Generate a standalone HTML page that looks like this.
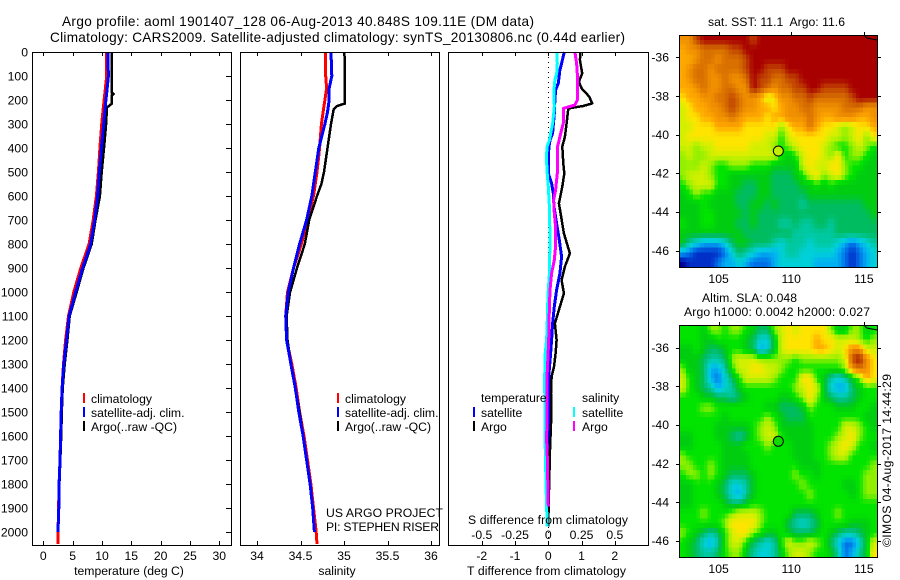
<!DOCTYPE html>
<html lang="en">
<head>
<meta charset="utf-8">
<title>Argo profile 1901407_128</title>
<style>
html,body{margin:0;padding:0;background:#fff;}
svg{display:block;}
text{font-family:"Liberation Sans",sans-serif;font-size:12.2px;fill:#000;}
text.big{font-size:13.6px;}
</style>
</head>
<body>
<svg id="chart" xmlns="http://www.w3.org/2000/svg" width="900" height="580" viewBox="0 0 900 580">
<rect x="0" y="0" width="900" height="580" fill="#fff"/>
<text class="big" x="62" y="26" textLength="472">Argo profile: aoml 1901407_128 06-Aug-2013 40.848S 109.11E (DM data)</text>
<text class="big" x="50" y="42" textLength="575">Climatology: CARS2009. Satellite-adjusted climatology: synTS_20130806.nc (0.44d earlier)</text>
<text x="129" y="575" text-anchor="middle">temperature (deg C)</text>
<text x="337" y="575" text-anchor="middle">salinity</text>
<text x="467" y="575" textLength="159">T difference from climatology</text>
<text x="468" y="524" textLength="160">S difference from climatology</text>
<text x="326" y="517" textLength="117">US ARGO PROJECT</text>
<text x="326" y="531" textLength="113">PI: STEPHEN RISER</text>
<text x="708" y="26" textLength="137" xml:space="preserve">sat. SST: 11.1  Argo: 11.6</text>
<text x="702" y="302" textLength="95">Altim. SLA: 0.048</text>
<text x="684" y="316" textLength="186">Argo h1000: 0.0042 h2000: 0.027</text>
<text transform="translate(891 547) rotate(-90)" textLength="173">©IMOS 04-Aug-2017 14:44:29</text>
</svg>
<script>
/* ---------- axis labels ---------- */
const depthTicks = [0,100,200,300,400,500,600,700,800,900,1000,1100,1200,1300,1400,1500,1600,1700,1800,1900,2000];
const tempTicks = [0,5,10,15,20,25,30];
const salTicks = [34,34.5,35,35.5,36];
const tDiffTicks = [-2,-1,0,1,2];
const sDiffTicks = [-0.5,-0.25,0,0.25,0.5];
const lonTicks = [105,110,115];
const latTicks = [-36,-38,-40,-42,-44,-46];

/* ---------- temperature profiles (deg C) ---------- */
const tempDepths = [0,100,170,240,300,400,500,600,700,800,900,1000,1100,1200,1300,1400,1500,1600,1700,1800,1900,2000,2050];
const tempClim = [10.74,10.8,10.5,10.2,9.95,9.65,9.4,9.05,8.5,7.8,6.4,5.2,4.3,3.8,3.45,3.2,3.05,2.95,2.85,2.7,2.6,2.5,2.5];
const tempSat = [11.0,11.1,10.8,10.5,10.3,9.9,9.55,9.25,8.75,8.07,6.7,5.5,4.4,3.95,3.5,3.2,3.05,2.95,2.85,2.7,2.65,2.5];
const tempArgoDepths = [0,170,175,180,215,232,250,300,400,500,600,700,800,900,1000,1100,1200,1300,1400,1500,1600,1700,1800,1900];
const tempArgo = [11.7,11.7,12.0,11.7,11.7,10.8,10.8,10.7,10.35,9.95,9.65,8.9,8.25,6.85,5.7,4.5,4.1,3.65,3.3,3.15,3.05,2.9,2.75,2.65];

/* ---------- salinity profiles ---------- */
const salDepths = [0,100,150,200,250,300,400,500,600,700,800,900,1000,1100,1200,1300,1400,1500,1600,1700,1800,1900,2000,2050];
const salClim = [34.79,34.79,34.8,34.78,34.76,34.74,34.72,34.69,34.65,34.58,34.51,34.42,34.35,34.33,34.34,34.40,34.45,34.49,34.54,34.58,34.62,34.65,34.68,34.69];
const salSat = [34.85,34.86,34.83,34.83,34.81,34.78,34.71,34.67,34.63,34.57,34.49,34.42,34.36,34.33,34.34,34.39,34.44,34.48,34.53,34.57,34.61,34.64,34.66];
const salArgoDepths = [0,30,215,225,240,300,400,500,550,600,700,800,900,1000,1100,1200,1300,1400,1500,1600,1700,1800,1900,2000];
const salArgo = [35.0,35.01,35.01,34.92,34.88,34.85,34.81,34.77,34.74,34.69,34.60,34.55,34.46,34.38,34.34,34.35,34.39,34.44,34.49,34.53,34.57,34.61,34.64,34.66];

/* ---------- difference profiles ---------- */
const tDiffSatDepths = [0,47,75,130,158,200,256,339,367,394,436,506,547,589,644,714,783,853,922,992,1061,1131,1200,1256,1339,1478,1617,1756,1978];
const tDiffSat = [0.48,0.40,0.35,0.30,0.22,0.20,0.18,0.13,0.05,0.02,0,0,0.10,0.15,0.17,0.25,0.33,0.40,0.35,0.25,0.18,0.13,0.10,0.07,0.02,0.01,0.01,0,-0.01];
const tDiffArgoDepths = [0,33,89,124,151,186,214,225,235,297,353,394,464,506,561,631,672,756,839,894,950,1006,1061,1131,1200,1256,1311,1353,1422,1547,1658,1894,1978];
const tDiffArgo = [0.97,0.95,1.02,0.92,1.0,1.23,1.32,1.05,0.60,0.55,0.50,0.42,0.45,0.48,0.42,0.32,0.37,0.47,0.65,0.50,0.40,0.47,0.35,0.20,0.25,0.22,0.17,0.10,0.08,0.08,0.05,0.01,0];
const sDiffSatDepths = [0,47,89,117,158,228,297,339,367,394,436,506,561,644,783,922,992,1061,1131,1200,1256,1367,1506,1644,1853,1978];
const sDiffSat = [0.063,0.068,0.063,0.05,0.043,0.045,0.033,0.018,0.008,-0.008,-0.015,-0.008,0,0.008,0.013,0.008,0,-0.005,-0.008,-0.013,-0.023,-0.028,-0.025,-0.023,-0.015,-0.008];
const sDiffArgoDepths = [0,47,89,200,221,235,297,339,394,506,575,617,672,728,811,867,922,992,1061,1200,1339,1478,1617,1672,1894];
const sDiffArgo = [0.20,0.213,0.218,0.218,0.20,0.113,0.113,0.093,0.07,0.068,0.055,0.04,0.045,0.055,0.055,0.045,0.025,0.013,0.008,0.003,-0.008,-0.008,-0.013,-0.008,0];

/* ---------- map fields: colour level per cell, north to south ---------- */
const sstLevels = [
[13,13,15,16,16,16,16,16,16,16,15,16,16,16,16,16,16,16,16,16,16,16,16,16,16,16,16,16],
[12,13,13,14,14,14,14,15,15,16,16,16,16,16,16,16,16,16,16,16,16,16,16,16,16,16,16,16],
[12,12,13,14,14,13,14,14,14,15,16,16,16,16,16,16,16,16,16,16,16,16,16,16,16,16,16,16],
[12,13,14,14,13,14,14,14,14,15,16,16,15,15,15,16,16,16,16,16,16,16,16,16,16,16,16,16],
[12,13,14,14,13,13,14,13,13,14,16,15,15,14,14,15,15,16,16,16,16,16,16,16,16,16,16,16],
[12,12,13,14,13,13,14,14,13,13,16,15,14,13,14,14,15,15,16,16,15,15,15,15,16,16,16,16],
[11,12,12,13,13,14,14,15,14,13,13,12,10,11,13,13,14,14,15,14,14,14,14,14,15,16,16,16],
[10,11,12,12,13,13,14,15,14,13,13,12,12,11,12,13,13,14,14,13,13,13,13,14,14,14,13,13],
[10,11,11,12,12,13,13,14,13,12,12,12,11,12,12,13,13,13,14,13,12,12,13,13,13,12,12,13],
[10,10,11,11,11,12,12,12,12,11,11,11,11,11,9,11,12,12,14,12,11,11,10,9,10,11,11,12],
[10,11,11,11,11,11,11,11,11,11,11,11,10,10,8,10,11,11,11,11,11,10,10,9,10,11,9,11],
[10,10,9,10,10,11,11,11,11,11,10,10,10,9,8,9,10,11,11,11,10,9,8,8,9,10,9,8],
[9,10,9,9,10,10,10,10,10,10,10,10,10,10,8,7,8,10,11,11,10,9,11,8,9,9,8,7],
[9,9,9,10,9,8,8,9,9,9,8,8,8,7,7,7,7,10,11,10,10,11,11,9,8,8,7,7],
[9,10,10,10,9,8,8,7,7,7,7,7,7,6,6,6,7,8,10,11,9,10,11,9,8,7,7,7],
[8,9,10,10,10,8,8,7,7,6,6,7,7,6,6,6,6,7,7,8,7,8,7,7,7,7,7,7],
[7,8,9,8,8,7,7,7,6,6,6,7,7,6,6,6,6,6,7,7,7,7,7,7,7,7,7,7],
[7,7,7,8,7,7,7,7,6,6,7,7,6,7,6,6,6,5,6,6,6,6,6,6,6,6,7,7],
[7,7,7,8,8,7,7,7,7,6,7,6,6,6,6,6,6,6,6,6,6,6,6,6,6,6,6,7],
[8,7,7,8,8,7,7,7,6,6,7,6,6,6,5,5,6,5,5,6,6,5,6,6,6,6,6,6],
[7,7,7,7,7,7,7,7,7,6,6,6,6,6,6,6,5,5,5,5,5,5,6,6,6,6,6,6],
[7,5,4,3,3,3,4,6,7,7,6,6,6,5,4,5,5,5,4,5,5,5,4,3,2,3,4,5],
[3,2,1,1,1,1,2,4,6,5,4,3,3,3,4,5,5,4,4,4,4,4,3,2,1,2,3,4],
[0,1,1,1,1,2,3,3,4,3,2,2,2,3,4,4,4,4,4,3,3,3,3,2,1,2,3,4]
];
const slaLevels = [
[8,8,8,7,9,9,8,9,9,8,7,6,6,9,10,11,10,11,11,11,11,9,7,7,9,9,7,8],
[8,8,8,7,7,8,8,8,8,7,6,4,4,7,10,11,11,11,11,12,11,11,10,10,10,9,8,9],
[7,7,8,7,6,6,7,8,8,7,6,3,4,7,10,11,11,11,11,12,12,11,10,11,13,13,10,10],
[7,7,7,6,5,5,6,9,10,10,10,9,9,9,9,9,8,9,9,9,9,9,9,10,15,16,13,11],
[9,7,7,6,3,3,5,8,10,10,11,11,10,10,9,8,8,8,8,8,8,8,8,9,13,14,13,11],
[10,8,7,6,3,2,4,6,8,10,10,10,10,9,8,8,8,11,11,8,7,5,4,5,7,9,12,11],
[10,8,7,6,5,3,4,5,7,8,8,8,8,8,8,8,9,10,11,10,7,4,3,3,6,7,8,8],
[8,8,8,7,7,6,6,5,6,7,8,8,8,8,7,7,8,9,11,9,7,6,5,5,6,7,8,8],
[8,8,8,9,9,8,8,8,8,8,8,8,7,7,6,6,6,7,9,8,8,8,7,7,7,8,8,7],
[8,8,8,8,8,8,7,8,8,8,8,8,9,8,7,6,6,6,8,8,8,8,8,8,8,8,7,7],
[8,8,8,8,8,7,7,7,7,7,8,9,10,9,7,7,7,7,7,8,8,8,8,10,10,9,8,7],
[7,7,8,8,8,7,7,6,5,6,8,9,10,10,8,7,7,7,7,8,8,8,9,10,11,9,8,8],
[7,7,8,8,8,8,7,7,7,8,8,8,9,8,8,8,7,7,7,8,8,9,10,11,10,8,8,7],
[9,8,8,8,8,8,7,7,7,7,8,8,8,8,8,8,7,7,7,8,8,9,10,10,8,8,8,8],
[9,9,8,8,9,8,7,7,7,7,8,8,8,8,8,8,8,7,7,7,8,8,8,8,8,8,8,9],
[8,9,9,8,9,8,7,6,6,6,7,8,8,8,8,8,9,8,8,7,8,8,8,8,8,8,9,9],
[7,7,8,8,8,7,6,4,4,5,7,8,8,8,8,8,8,9,8,8,8,8,8,7,7,8,9,9],
[7,7,8,8,8,7,6,4,3,5,7,8,8,8,8,8,8,8,9,8,8,8,8,8,7,8,9,9],
[7,7,8,8,8,8,7,6,6,7,8,8,8,8,8,8,8,8,8,8,8,8,8,8,8,8,8,8],
[8,8,8,9,8,8,8,9,10,10,10,9,8,8,8,8,6,6,6,7,8,8,9,8,8,8,8,8],
[8,8,8,8,8,8,9,11,11,11,11,9,8,8,8,6,5,4,5,6,8,8,8,8,7,7,7,8],
[9,8,7,6,5,6,8,10,11,11,9,8,7,7,8,7,6,6,6,7,8,7,6,5,5,6,7,8],
[8,7,6,4,3,5,8,10,10,8,6,5,4,5,8,10,9,9,10,9,8,6,4,2,2,4,7,10],
[8,7,6,5,5,6,8,9,9,7,5,4,4,5,7,9,10,10,9,8,8,7,5,2,3,5,7,11]
];
const levelColors = ['#000090','#0030c8','#0070e8','#00b0f0','#00d0d8','#00c8a0','#00bc60','#00cc10','#00e400','#90f000','#d0f000','#ffe400','#ffa800','#f09000','#d87000','#c04400','#a80000'];

/* ---------- axis functions ---------- */
function depthY(d){return 52+d*0.24;}
function tempX(t){return 43.3+5.867*t;}
function salX(s){return 257+87*(s-34);}
function tDiffX(v){return 548.3+33.25*v;}
function sDiffX(v){return 548.3+133*v;}
function lonX(lon){return 718.6+14.53*(lon-105);}
function sstLatY(lat){return 57.3+19.33*(-36-lat);}
function slaLatY(lat){return 347.6+19.33*(-36-lat);}

const svg = document.getElementById('chart');
const NS = 'http://www.w3.org/2000/svg';
function mk(tag, attrs, parent){
  const e = document.createElementNS(NS, tag);
  for (const k in attrs) e.setAttribute(k, attrs[k]);
  (parent || svg).appendChild(e);
  return e;
}
function hex(c){return [1,3,5].map(function(i){return parseInt(c.substr(i,2),16);});}
function levelColor(v){
  const lo = Math.max(0, Math.min(levelColors.length-2, Math.floor(v)));
  const f = Math.max(0, Math.min(1, v-lo));
  const a = hex(levelColors[lo]), b = hex(levelColors[lo+1]);
  return 'rgb('+a.map(function(x,i){return Math.round(x+(b[i]-x)*f);}).join(',')+')';
}

function drawFrame(name, l, r, t, b){
  const frame = mk('rect',{x:l+0.5,y:t+0.5,width:r-l,height:b-t,fill:'none',stroke:'#000','stroke-width':1,'shape-rendering':'crispEdges'});
  
  
}
function vTicks(name, values, xf, t, b, len, labelY){
  values.forEach(function(v){
    const x = Math.round(xf(v))+0.5;
    const top = mk('line',{x1:x,x2:x,y1:t,y2:t+len,stroke:'#000','shape-rendering':'crispEdges'});
    
    
    const bot = mk('line',{x1:x,x2:x,y1:b,y2:b-len,stroke:'#000','shape-rendering':'crispEdges'});
    
    
    const lab = mk('text',{x:xf(v),y:labelY,'text-anchor':'middle'});
    lab.textContent = String(v);
    
    
  });
}
function profile(name, depths, values, xf, color, width){
  const pts = values.map(function(v,i){return xf(v).toFixed(1)+','+depthY(depths[i]).toFixed(1);}).join(' ');
  const line = mk('polyline',{points:pts,fill:'none',stroke:color,'stroke-width':width,'shape-rendering':'crispEdges','stroke-linejoin':'round'});
  
  
}
function legendEntry(name, label, swatchX, textX, baseY, color){
  if (color){
    const sw = mk('rect',{x:swatchX,y:baseY-10,width:2,height:10,fill:color});
    
    
  }
  const t = mk('text',{x:textX,y:baseY});
  t.textContent = label;
  
  
}

/* ---------- profile panels ---------- */
depthTicks.forEach(function(d){
  const y = Math.round(depthY(d))+0.5;
  const tick = mk('line',{x1:226,x2:231,y1:y,y2:y,stroke:'#000','shape-rendering':'crispEdges'});
  
  
  const lab = mk('text',{x:28,y:depthY(d)+4.3,'text-anchor':'end'});
  lab.textContent = String(d);
  
  
});

profile('temperature-climatology-line', tempDepths, tempClim, tempX, '#f00', 3);
profile('temperature-argo-line', tempArgoDepths, tempArgo, tempX, '#000', 2.5);
profile('temperature-satellite-line', tempDepths, tempSat, tempX, '#00f', 3);
drawFrame('temperature-panel', 32, 231, 52, 545);
vTicks('temperature', tempTicks, tempX, 52, 545, 4, 560);

profile('salinity-climatology-line', salDepths, salClim, salX, '#f00', 3);
profile('salinity-argo-line', salArgoDepths, salArgo, salX, '#000', 2.5);
profile('salinity-satellite-line', salDepths, salSat, salX, '#00f', 3);
drawFrame('salinity-panel', 240, 439, 52, 545);
vTicks('salinity', salTicks, salX, 52, 545, 4, 560);

const zero = mk('line',{x1:548.5,x2:548.5,y1:52,y2:545,stroke:'#000','stroke-dasharray':'1 4','shape-rendering':'crispEdges'});


profile('t-difference-satellite-line', tDiffSatDepths, tDiffSat, tDiffX, '#00f', 3);
profile('t-difference-argo-line', tDiffArgoDepths, tDiffArgo, tDiffX, '#000', 2.5);
profile('s-difference-satellite-line', sDiffSatDepths, sDiffSat, sDiffX, '#0ff', 3);
profile('s-difference-argo-line', sDiffArgoDepths, sDiffArgo, sDiffX, '#f0f', 3);
drawFrame('difference-panel', 448, 648, 52, 545);
vTicks('t-difference', tDiffTicks, tDiffX, 52, 545, 4, 560);
sDiffTicks.forEach(function(v){
  const lab = mk('text',{x:sDiffX(v),y:539,'text-anchor':'middle'});
  lab.textContent = String(v);
  
  
});

/* ---------- legends ---------- */
legendEntry('legend-climatology','climatology',83,91,403,'#f00');
legendEntry('legend-satellite-adj','satellite-adj. clim.',83,91,417,'#00f');
legendEntry('legend-argo','Argo(..raw -QC)',83,91,431,'#000');
legendEntry('legend-climatology-salinity','climatology',337,345,403,'#f00');
legendEntry('legend-satellite-adj-salinity','satellite-adj. clim.',337,345,417,'#00f');
legendEntry('legend-argo-salinity','Argo(..raw -QC)',337,345,431,'#000');
legendEntry('legend-temperature-heading','temperature',473,481,402,null);
legendEntry('legend-t-satellite','satellite',473,481,417,'#00f');
legendEntry('legend-t-argo','Argo',473,481,431,'#000');
legendEntry('legend-salinity-heading','salinity',573,582,402,null);
legendEntry('legend-s-satellite','satellite',573,582,417,'#0ff');
legendEntry('legend-s-argo','Argo',573,582,431,'#f0f');

/* ---------- maps ---------- */
function sample(field, r, c){
  const rr = Math.max(0, Math.min(field.length-1, r));
  const cc = Math.max(0, Math.min(field[0].length-1, c));
  const r0 = Math.floor(rr), c0 = Math.floor(cc);
  const r1 = Math.min(field.length-1, r0+1), c1 = Math.min(field[0].length-1, c0+1);
  const fr = rr-r0, fc = cc-c0;
  return (field[r0][c0]*(1-fc)+field[r0][c1]*fc)*(1-fr)+(field[r1][c0]*(1-fc)+field[r1][c1]*fc)*fr;
}
function drawMap(name, field, l, r, t, b, latY, circleFill, labelY){
  const g = mk('g',{'shape-rendering':'crispEdges'});
  
  
  const rows = field.length*2, cols = field[0].length*2;
  const w = (r-l)/cols, h = (b-t)/rows;
  for (let i=0;i<rows;i++){
    for (let j=0;j<cols;j++){
      const v = sample(field, (i-0.5)/2, (j-0.5)/2);
      const cell = mk('rect',{x:(l+j*w).toFixed(2),y:(t+i*h).toFixed(2),width:(w+0.4).toFixed(2),height:(h+0.4).toFixed(2),fill:levelColor(v)},g);
      
      
    }
  }
  const coast = mk('polyline',{points:lonX(115)+','+t+' '+(lonX(115)+3)+','+(t+3)+' '+r+','+(t+5),fill:'none',stroke:'#000','stroke-width':1});
  
  
  drawFrame(name, l, r, t, b);
  latTicks.forEach(function(lat){
    const y = Math.round(latY(lat))+0.5;
    const a = mk('line',{x1:l-3,x2:l,y1:y,y2:y,stroke:'#000','shape-rendering':'crispEdges'});
    
    
    const c = mk('line',{x1:r+1,x2:r+4,y1:y,y2:y,stroke:'#000','shape-rendering':'crispEdges'});
    
    
    const lab = mk('text',{x:669,y:latY(lat)+4.3,'text-anchor':'end'});
    lab.textContent = String(lat);
    
    
  });
  lonTicks.forEach(function(lon){
    const x = Math.round(lonX(lon))+0.5;
    const a = mk('line',{x1:x,x2:x,y1:t-3,y2:t,stroke:'#000','shape-rendering':'crispEdges'});
    
    
    const lab = mk('text',{x:lonX(lon),y:labelY,'text-anchor':'middle'});
    lab.textContent = String(lon);
    
    
  });
  const marker = mk('circle',{cx:lonX(109.11),cy:latY(-40.848),r:5,fill:circleFill,stroke:'#000','stroke-width':1});
  
  
}
drawMap('sst-map', sstLevels, 679, 877, 35, 267, sstLatY, '#c0f000', 283);
drawMap('sla-map', slaLevels, 679, 877, 325, 557, slaLatY, '#10dc00', 573);

/* keep every label above the plotted lines */
Array.from(svg.querySelectorAll('text')).forEach(function(t){ svg.appendChild(t); });
</script>
</body>
</html>
